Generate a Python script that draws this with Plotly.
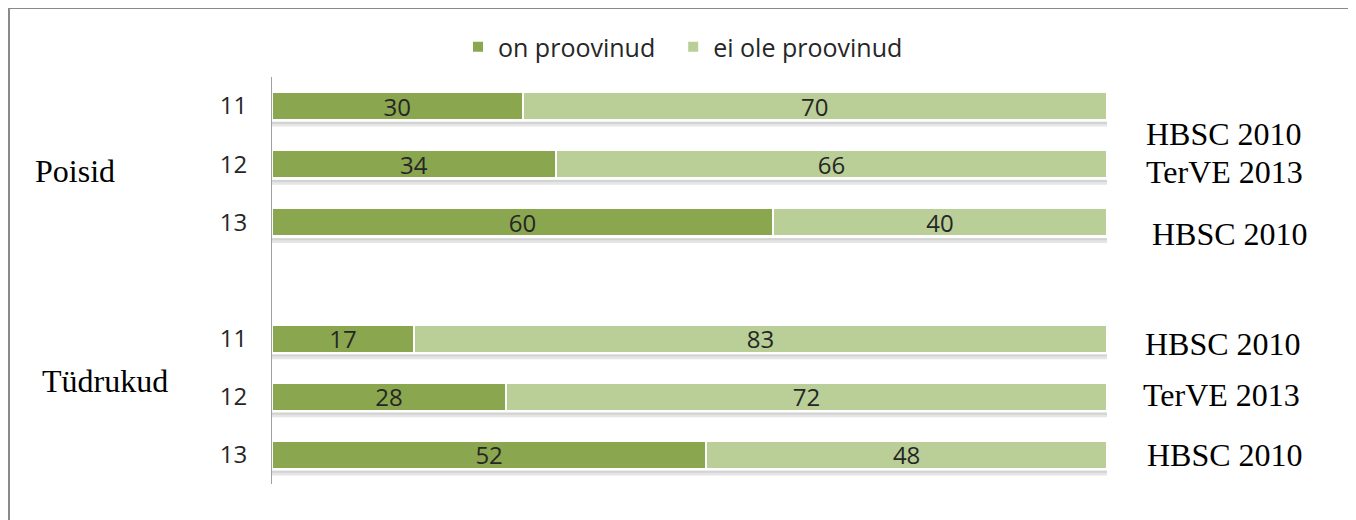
import plotly.graph_objects as go

# ---- data ----
row_labels = ["11", "12", "13", "", "11", "12", "13"]
on_proovinud = [30, 34, 60, None, 17, 28, 52]
ei_ole_proovinud = [70, 66, 40, None, 83, 72, 48]
series_names = ["on proovinud", "ei ole proovinud"]
group_labels = ["Poisid", "Tüdrukud"]
source_labels = ["HBSC 2010", "TerVE 2013", "HBSC 2010", "", "HBSC 2010", "TerVE 2013", "HBSC 2010"]

DARK = "#8AA64F"
LIGHT = "#B9CF97"
TXT = "#262626"

OFF = 8                      # page body margin
W, H = 1356 - OFF, 520 - OFF
SL, SR, ST, SB = 272, 1107, 77, 484   # plot area in screen pixels
L, R, T, B = SL - OFF, SR - OFF, ST - OFF, SB - OFF


def px_x(sx):
    return (sx - SL) / (SR - SL)


def px_y(sy):
    return (SB - sy) / (SB - ST)


ypos = list(range(len(row_labels)))

fig = go.Figure()
legend_pad = ["\u00a0\u00a0", ""]
for name, pad, vals, col in [(series_names[0], legend_pad[0], on_proovinud, DARK),
                             (series_names[1], legend_pad[1], ei_ole_proovinud, LIGHT)]:
    fig.add_trace(go.Bar(
        y=ypos, x=vals, name=name + pad, orientation="h",
        marker=dict(color=col, line=dict(color="white", width=2)),
        width=0.48,
        text=[("" if v is None else str(v)) for v in vals],
        textposition="inside", insidetextanchor="middle", textangle=0,
        textfont=dict(family="Open Sans", size=24, color=TXT),
        hoverinfo="skip",
    ))

# soft shadow under each bar
shapes = []
for i, v in enumerate(on_proovinud):
    if v is None:
        continue
    shapes.append(dict(type="line", xref="x", yref="y", x0=0, x1=100, y0=i + 0.31, y1=i + 0.31,
                       line=dict(color="rgba(0,0,0,0.10)", width=5), layer="below"))
    shapes.append(dict(type="line", xref="x", yref="y", x0=0, x1=100, y0=i + 0.29, y1=i + 0.29,
                       line=dict(color="rgba(0,0,0,0.08)", width=2), layer="below"))

# outer border (left and top visible)
shapes.append(dict(type="rect", xref="paper", yref="paper",
                   x0=px_x(9), x1=px_x(1400), y0=px_y(560), y1=px_y(8),
                   line=dict(color="#8a8a8a", width=2), fillcolor="rgba(0,0,0,0)", layer="below"))

annotations = []
# group labels
for lab, sx, sy in zip(group_labels, [33, 40], [172, 382]):
    annotations.append(dict(text=lab, xref="paper", yref="paper", x=px_x(sx), y=px_y(sy - 1),
                            xanchor="left", yanchor="middle", showarrow=False,
                            font=dict(family="Liberation Serif", size=32, color="black")))
# source labels
src_pos = [(1224, 134), (1224, 172), (1230, 234), None, (1223, 344), (1221, 395), (1225, 455)]
for lab, pos in zip(source_labels, src_pos):
    if not lab:
        continue
    annotations.append(dict(text=lab, xref="paper", yref="paper", x=px_x(pos[0]), y=px_y(pos[1]),
                            xanchor="center", yanchor="middle", showarrow=False,
                            font=dict(family="Liberation Serif", size=32, color="black")))

fig.update_layout(
    width=W, height=H,
    barmode="stack",
    plot_bgcolor="white", paper_bgcolor="white",
    margin=dict(l=L, r=W - R, t=T, b=H - B, pad=0),
    uniformtext=dict(minsize=24, mode="show"),
    xaxis=dict(range=[0, 100], showgrid=False, showticklabels=False, zeroline=False,
               showline=False, ticks="", fixedrange=True),
    yaxis=dict(range=[len(row_labels) - 0.5, -0.5], tickvals=ypos, ticktext=row_labels,
               showgrid=False, zeroline=False, showline=True, linecolor="#a0a0a0", linewidth=1,
               ticks="", ticklabelstandoff=19,
               tickfont=dict(family="Open Sans", size=24, color=TXT), fixedrange=True),
    legend=dict(orientation="h", x=px_x(458), xanchor="left", y=px_y(47), yanchor="middle",
                font=dict(family="Open Sans", size=25, color=TXT),
                traceorder="normal", bgcolor="rgba(0,0,0,0)"),
    shapes=shapes,
    annotations=annotations,
    showlegend=True,
)

fig.write_html("out.html")
